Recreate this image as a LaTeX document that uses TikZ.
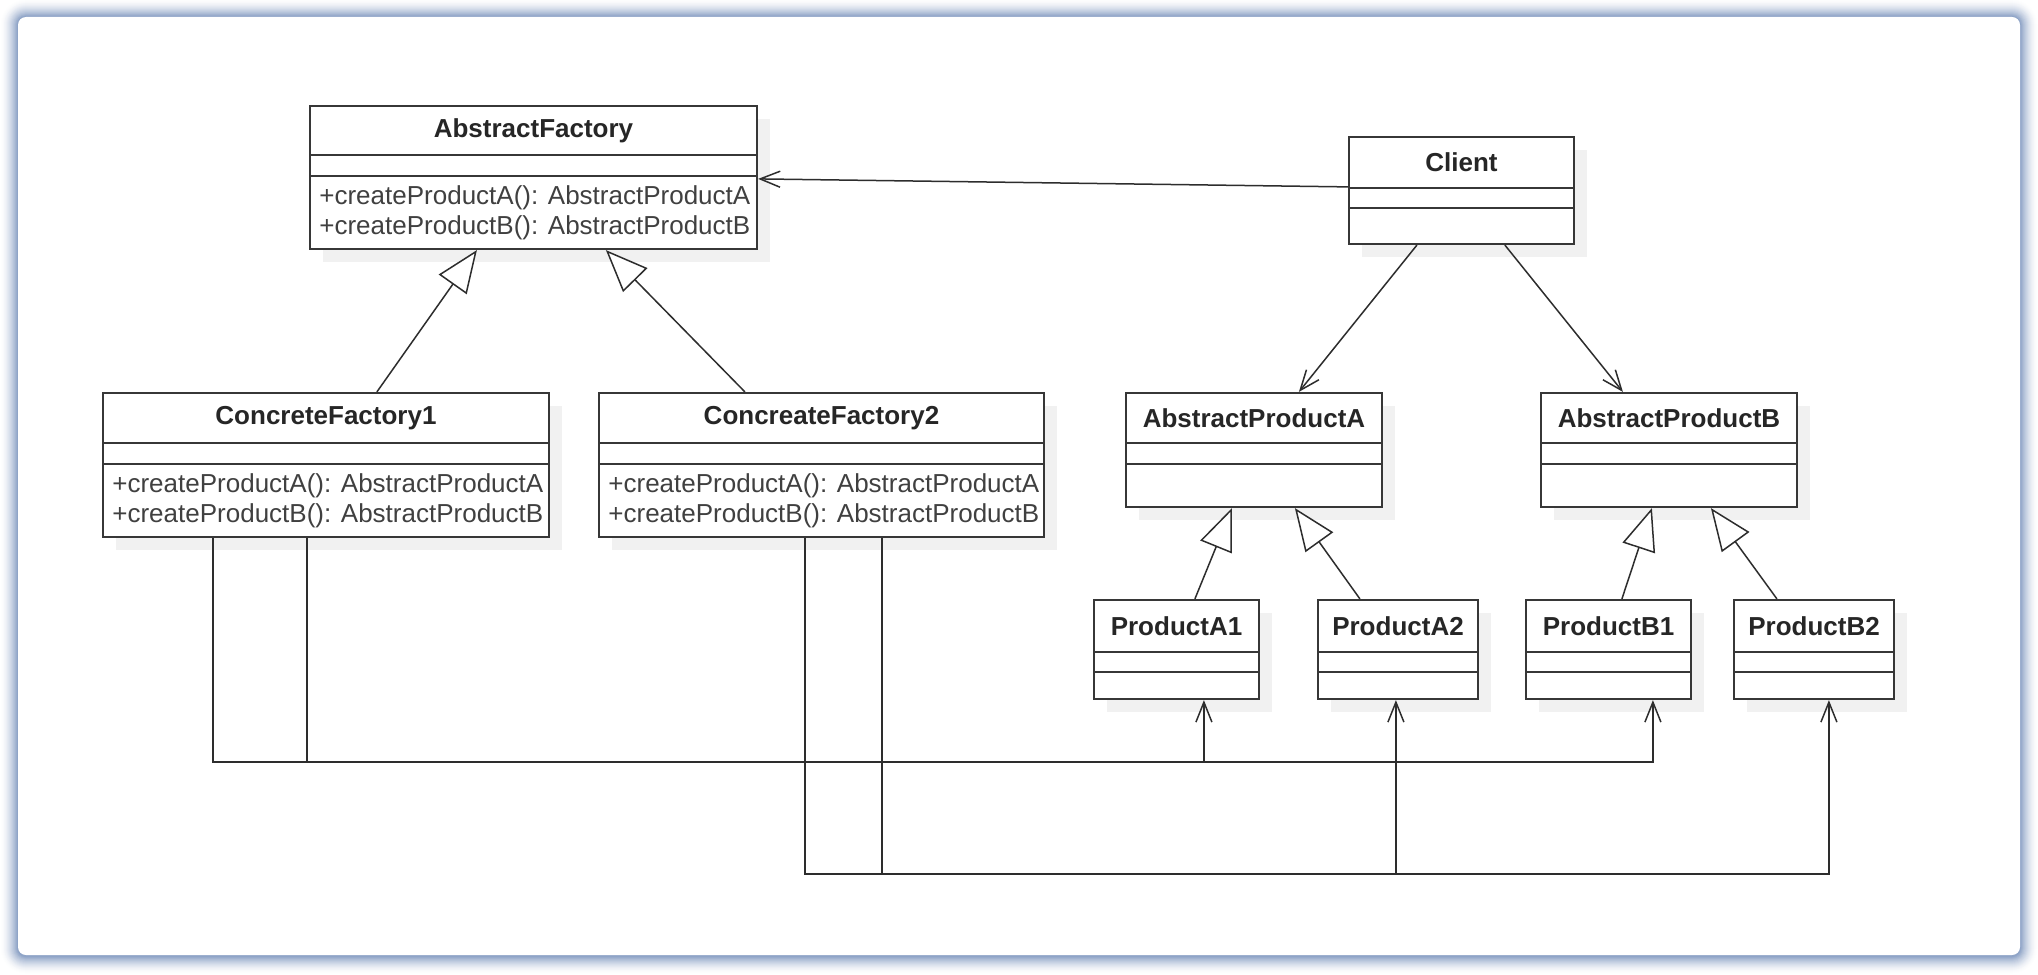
\documentclass[tikz,border=0pt]{standalone}
\usepackage{fontspec}
\setmainfont{Liberation Sans}
\usetikzlibrary{arrows.meta,calc,fit}
\definecolor{sb}{RGB}{95,125,175}
\definecolor{boxline}{RGB}{55,55,55}
\definecolor{conline}{RGB}{45,45,45}
\definecolor{boxshadow}{RGB}{241,241,241}
\tikzset{
  box/.style={draw=boxline, line width=1.1pt, fill=white, inner sep=0pt},
  boxrule/.style={draw=boxline, line width=1.1pt},
  titletext/.style={font=\bfseries\fontsize{13}{15}\selectfont, text=black!85, inner sep=0pt},
  methtext/.style={anchor=west, align=left, inner sep=0pt, font=\fontsize{13}{15}\selectfont, text=black!75},
  gen/.style={draw=conline, line width=0.75pt, -{Triangle[open, length=21pt, width=17pt, fill=white]}},
  dep/.style={draw=conline, line width=0.75pt, -{Straight Barb[length=10pt, width=8pt]}},
}
\newcommand{\umlbox}[9]{%
  \fill[boxshadow] (#2+13,#3+13) rectangle (#4+13,#5+13);
  \node[box, fit={(#2,#3) (#4,#5)}] (#1) {};
  \draw[boxrule] (#2,#6) -- (#4,#6);
  \draw[boxrule] (#2,#7) -- (#4,#7);
  \node[titletext] (#1-t) at ({(#2+#4)/2},{(#3+#6)/2}) {#8};
  \node[methtext] (#1-m) at (#2+9,{(#7+#5)/2}) {#9};
}
\begin{document}
\begin{tikzpicture}[x=0.5pt, y=-0.5pt]
\useasboundingbox (0,0) rectangle (2038,974);
\fill[white] (0,0) rectangle (2038,974);
% frame shadow
\foreach \d in {18,...,1}{
  \pgfmathtruncatemacro\p{78*(1-\d/19)^1.8}
  \pgfmathsetmacro\r{4+\d*0.5}
  \fill[sb!\p!white, rounded corners=\r pt] (18-\d,17-\d) rectangle (2020+\d,956+\d);
}
\fill[white, rounded corners=4pt] (18,17) rectangle (2020,955);

% classes
\umlbox{af}{310}{106}{757}{249}{155}{176}{AbstractFactory}{+createProductA(): AbstractProductA\\+createProductB(): AbstractProductB}
\umlbox{cl}{1349}{137}{1574}{244}{188}{208}{Client}{}
\umlbox{cf1}{103}{393}{549}{537}{443}{464}{ConcreteFactory1}{+createProductA(): AbstractProductA\\+createProductB(): AbstractProductB}
\umlbox{cf2}{599}{393}{1044}{537}{443}{464}{ConcreateFactory2}{+createProductA(): AbstractProductA\\+createProductB(): AbstractProductB}
\umlbox{apa}{1126}{393}{1382}{507}{443}{464}{AbstractProductA}{}
\umlbox{apb}{1541}{393}{1797}{507}{443}{464}{AbstractProductB}{}
\umlbox{a1}{1094}{600}{1259}{699}{652}{672}{ProductA1}{}
\umlbox{a2}{1318}{600}{1478}{699}{652}{672}{ProductA2}{}
\umlbox{b1}{1526}{600}{1691}{699}{652}{672}{ProductB1}{}
\umlbox{b2}{1734}{600}{1894}{699}{652}{672}{ProductB2}{}

% client associations
\draw[dep] ($(cl.north west)+(0,51)$) -- ($(af.north east)+(0,74)$);
\draw[dep] ($(cl.south west)+(69,0)$) -- ($(apa.north west)+(174,0)$);
\draw[dep] ($(cl.south west)+(157,0)$) -- ($(apb.north west)+(83,0)$);

% generalizations
\draw[gen] ($(cf1.north west)+(275,0)$) -- ($(af.south west)+(168,0)$);
\draw[gen] ($(cf2.north west)+(147,0)$) -- ($(af.south west)+(297,0)$);
\draw[gen] ($(a1.north west)+(102,0)$) -- ($(apa.south west)+(107,0)$);
\draw[gen] ($(a2.north west)+(43,0)$) -- ($(apa.south west)+(170,0)$);
\draw[gen] ($(b1.north west)+(97,0)$) -- ($(apb.south west)+(112,0)$);
\draw[gen] ($(b2.north west)+(44,0)$) -- ($(apb.south west)+(171,0)$);

% factory dependencies
\draw[dep] ($(cf1.south west)+(111,0)$) -- ++(0,224) -| ($(b1.south west)+(128,0)$);
\draw[dep] ($(cf1.south west)+(205,0)$) -- ++(0,224) -| ($(a1.south west)+(111,0)$);
\draw[dep] ($(cf2.south west)+(207,0)$) -- ++(0,336) -| ($(b2.south west)+(96,0)$);
\draw[dep] ($(cf2.south west)+(284,0)$) -- ++(0,336) -| ($(a2.south west)+(79,0)$);
\end{tikzpicture}
\end{document}
